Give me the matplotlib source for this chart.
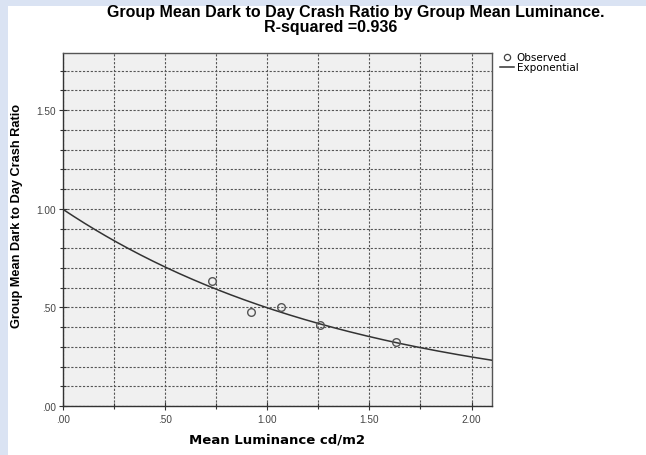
import numpy as np
import matplotlib
matplotlib.use("Agg")
import matplotlib.pyplot as plt
from matplotlib.patches import Rectangle
from matplotlib.ticker import MultipleLocator, FuncFormatter
from matplotlib.lines import Line2D

plt.rcParams['font.family'] = ['Liberation Sans', 'DejaVu Sans']

# Observed group means
luminance = [0.73, 0.92, 1.07, 1.26, 1.63]
crash_ratio = [0.635, 0.475, 0.50, 0.41, 0.325]
title_lines = ["Group Mean Dark to Day Crash Ratio by Group Mean Luminance.",
               "R-squared =0.936"]

# Exponential model y = b0 * exp(b1 * x), fitted on log scale
b1, ln_b0 = np.polyfit(luminance, np.log(crash_ratio), 1)
x_fit = np.linspace(0, 2.1, 200)
y_fit = np.exp(ln_b0) * np.exp(b1 * x_fit)

W, H = 646, 456
fig = plt.figure(figsize=(W / 100, H / 100), dpi=100)
fig.patch.set_facecolor('#dae3f3')
fig.patches.append(Rectangle((8 / W, 0), 1 - 8 / W, 1 - 7 / H, transform=fig.transFigure,
                             facecolor='white', edgecolor='none', zorder=-10))

ax = fig.add_axes([62.7 / W, 49 / H, (492 - 62.7) / W, (407 - 54) / H])
ax.set_facecolor('#f0f0f0')
ax.set_xlim(0, 2.1)
ax.set_ylim(0, 1.79)

ax.xaxis.set_major_locator(MultipleLocator(0.5))
ax.xaxis.set_minor_locator(MultipleLocator(0.25))
ax.yaxis.set_major_locator(MultipleLocator(0.5))
ax.yaxis.set_minor_locator(MultipleLocator(0.1))

def spss_fmt(v, pos):
    s = f"{v:.2f}"
    return s[1:] if s.startswith("0") else s

ax.xaxis.set_major_formatter(FuncFormatter(spss_fmt))
ax.yaxis.set_major_formatter(FuncFormatter(spss_fmt))

ax.grid(which='both', color='#555555', linestyle=(0, (2, 1.5)), linewidth=0.8)
ax.set_axisbelow(True)
ax.tick_params(which='both', direction='inout', color='#333333', labelcolor='#444444',
               labelsize=7.2, width=0.8)
ax.tick_params(which='major', length=6)
ax.tick_params(which='minor', length=4)
ax.tick_params(axis='x', pad=3)
ax.tick_params(axis='y', pad=2)

for side, sp in ax.spines.items():
    sp.set_color('#333333' if side in ('left', 'bottom') else '#555555')
    sp.set_linewidth(1.0)

ax.plot(x_fit, y_fit, color='#333333', linewidth=1.1, zorder=3)
ax.plot(luminance, crash_ratio, linestyle='none', marker='o', markersize=5.5,
        markerfacecolor='none', markeredgecolor='#555555', markeredgewidth=1.0, zorder=4)

ax.set_xlabel("Mean Luminance cd/m2", fontsize=9.5, fontweight='bold',
              family=['DejaVu Sans'], labelpad=6)
ax.set_ylabel("Group Mean Dark to Day Crash Ratio", fontsize=9.2, fontweight='bold')
ax.yaxis.set_label_coords(-0.093, 0.54)

fig.text(356 / W, 1 - 12.5 / H, title_lines[0], ha='center', va='center',
         fontsize=11.5, fontweight='bold')
fig.text(331 / W, 1 - 27.5 / H, title_lines[1], ha='center', va='center',
         fontsize=11.5, fontweight='bold')

handles = [Line2D([], [], linestyle='none', marker='o', markersize=4.5, markerfacecolor='none',
                  markeredgecolor='#444444', markeredgewidth=0.9),
           Line2D([], [], color='#333333', linewidth=1.1)]
ax.legend(handles, ["Observed", "Exponential"], loc='upper left',
          bbox_to_anchor=(1.005, 1.02), frameon=False,
          prop={'family': 'DejaVu Sans', 'size': 7.5},
          handlelength=1.3, handletextpad=0.25, labelspacing=0.0, handleheight=0.5,
          borderaxespad=0.2)

fig.savefig("out.png", dpi=100)
